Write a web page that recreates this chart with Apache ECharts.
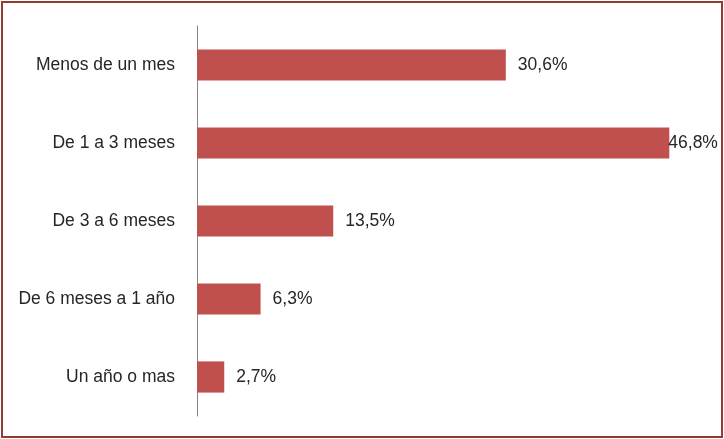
<!DOCTYPE html>
<html><head><meta charset="utf-8">
<script src="https://cdn.jsdelivr.net/npm/echarts@6/dist/echarts.min.js"></script>
<style>html,body{margin:0;padding:0;background:#fff}#c{width:724px;height:439px}</style>
</head><body><div id="c"></div>
<script>
const categories = ['Menos de un mes', 'De 1 a 3 meses', 'De 3 a 6 meses', 'De 6 meses a 1 año', 'Un año o mas'];
const values = [30.6, 46.8, 13.5, 6.3, 2.7];

const chart = echarts.init(document.getElementById('c'));
const fontFam = '"Liberation Sans", Arial, sans-serif';
chart.setOption({
  animation: false,
  backgroundColor: '#fff',
  grid: { left: 197, top: 26, height: 390, width: 504.6 },
  xAxis: { type: 'value', min: 0, max: 50, show: false },
  yAxis: {
    type: 'category', data: categories, inverse: true,
    axisLine: { show: true, lineStyle: { color: '#868686', width: 1 } },
    axisTick: { show: false },
    axisLabel: { color: '#262626', fontSize: 17.5, fontFamily: fontFam, margin: 22 }
  },
  series: [{
    type: 'bar',
    data: values.map((v, i) => i === 1 ? { value: v, label: { distance: -1 } } : v),
    barCategoryGap: '60%',
    itemStyle: { color: '#C0504D' },
    label: {
      show: true, position: 'right', distance: 12,
      color: '#262626', fontSize: 17.5, fontFamily: fontFam,
      formatter: p => p.value.toFixed(1).replace('.', ',') + '%'
    }
  }],
  graphic: [{
    type: 'rect', shape: { x: 2, y: 2, width: 720, height: 435 },
    style: { fill: null, stroke: '#8f3d33', lineWidth: 2 }, silent: true
  }]
});
</script></body></html>
